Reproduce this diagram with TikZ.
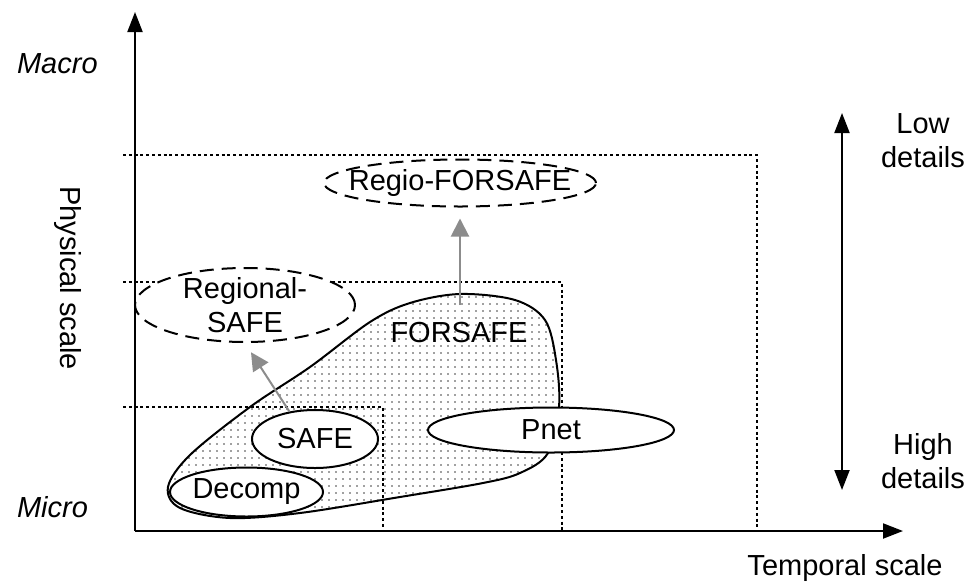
\documentclass[tikz,border=0pt]{standalone}
\usepackage{fontspec}
\setmainfont{Liberation Sans}
\usetikzlibrary{arrows.meta,shapes.geometric,patterns,patterns.meta,positioning}

\tikzdeclarepattern{
  name=sparsedots,
  type=uncolored,
  bottom left={(-1pt,-1pt)},
  top right={(1pt,1pt)},
  tile size={(3.5pt,3.5pt)},
  code={\pgfpathcircle{\pgfpointorigin}{0.45pt}\pgfusepath{fill}}
}

\begin{document}
\begin{tikzpicture}[x=0.5pt,y=-0.5pt,>={Triangle[length=10pt,width=7.5pt]},
  font=\fontsize{14.5}{17}\selectfont,
  model/.style={ellipse,draw,line width=1pt,fill=white,inner sep=0pt},
  future/.style={model,dash pattern=on 7pt off 4pt},
  scalebox/.style={line width=1pt,dash pattern=on 1.5pt off 1.4pt},
  axis/.style={line width=1pt},
  level/.style={anchor=west,font=\fontsize{14.5}{17}\selectfont\itshape},
  up/.style={->,>={Triangle[length=9pt,width=9pt]},draw=black!45,line width=1pt,shorten >=5.5pt}]
  \useasboundingbox (0,0) rectangle (968,584);
  % FORSAFE domain
  \draw[line width=1pt,pattern=sparsedots,pattern color=black!75]
    plot[smooth cycle,tension=0.55] coordinates {(168,487) (190,455) (250,407) (310,367)
      (370,322) (410,303) (460,294) (515,300) (545,320) (556,360) (559,407) (548,453)
      (520,473) (483,483) (400,497) (300,513) (230,518) (180,508)};
  % scale boxes
  \draw[scalebox] (123,155) -| (757,531);
  \draw[scalebox] (123,282) -| (562,531);
  \draw[scalebox] (123,407) -| (383,531);
  % models
  \node[future,minimum width=136pt,minimum height=23.5pt] (regfor) at (460,183) {};
  \node (regfortxt) at (regfor) {Regio-FORSAFE};
  \node[future,minimum width=110pt,minimum height=37pt] (regsafe) at (245,305) {};
  \node[align=center] (regsafetxt) at (regsafe) {Regional-\\SAFE};
  \node (forsafe) at (459,333) {FORSAFE};
  \node[model,minimum width=63pt,minimum height=29pt] (safe) at (315,439) {};
  \node (safetxt) at (safe) {SAFE};
  \node[model,minimum width=76.5pt,minimum height=24.5pt] (decomp) at (246.5,492) {};
  \node (decomptxt) at (decomp) {Decomp};
  \node[model,minimum width=123pt,minimum height=22.5pt] (pnet) at (551,430) {};
  \node (pnettxt) at (pnet) {Pnet};
  % upscaling
  \coordinate (fstop) at (460,305);
  \draw[up] (fstop) -- (regfor.south);
  \draw[up] (safe.133) -- (regsafe.south);
  % axes
  \coordinate (o) at (135,531);
  \coordinate (ytop) at (135,12);
  \coordinate (xend) at (903,531);
  \draw[axis,->] (o) -- (ytop);
  \draw[axis,->] (o) -- (xend);
  \coordinate (lowend) at (842,113);
  \coordinate (highend) at (842,490);
  \draw[axis,<->] (highend) -- (lowend);
  % labels
  \node[level] (macro) at (10,64) {Macro};
  \node[level] (micro) at (10,507) {Micro};
  \node[rotate=-90] (phys) at (68,278) {Physical scale};
  \node (temp) at (845,568) {Temporal scale};
  \node[align=center] (low) at (923,141) {Low\\details};
  \node[align=center] (high) at (923,461) {High\\details};
\end{tikzpicture}
\end{document}
